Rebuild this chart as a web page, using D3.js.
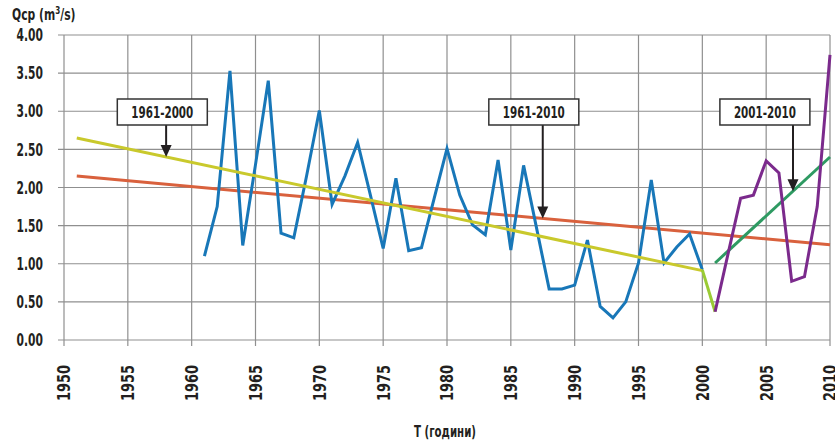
<!DOCTYPE html>
<html>
<head>
<meta charset="utf-8">
<script src="https://cdn.jsdelivr.net/npm/d3@7"></script>
<style>
  html, body { margin: 0; padding: 0; background: #fff; }
  svg { display: block; }
  text { font-family: "DejaVu Sans Condensed", "Liberation Sans Narrow", sans-serif; font-weight: bold; fill: #231f20; }
</style>
</head>
<body>
<svg id="chart" width="835" height="443"></svg>
<script>
// Mean annual discharge, 1961-2000 (m3/s)
const yearsA = d3.range(1961, 2001);
const flowA = [1.10, 1.75, 3.53, 1.24, 2.30, 3.40, 1.40, 1.34, 2.15, 3.01,
               1.78, 2.15, 2.59, 1.90, 1.20, 2.12, 1.17, 1.21, 1.86, 2.51,
               1.90, 1.51, 1.38, 2.36, 1.18, 2.29, 1.48, 0.67, 0.67, 0.72,
               1.31, 0.44, 0.29, 0.50, 1.01, 2.10, 1.01, 1.22, 1.39, 0.92];
// Mean annual discharge, 2001-2010 (m3/s)
const yearsB = d3.range(2001, 2011);
const flowB = [0.37, 1.12, 1.86, 1.90, 2.35, 2.19, 0.77, 0.83, 1.75, 3.74];
// Link between the two periods
const linkYears = [2000, 2001];
const linkFlow = [0.92, 0.37];

// Linear trends: [start year, end year], [start value, end value]
const trendYears1961_2000 = [1951, 2000];
const trendFlow1961_2000 = [2.65, 0.91];
const trendYears1961_2010 = [1951, 2010];
const trendFlow1961_2010 = [2.15, 1.25];
const trendYears2001_2010 = [2001, 2010];
const trendFlow2001_2010 = [1.01, 2.40];

// Axis ticks
const xTicks = d3.range(1950, 2011, 5);
const yTicks = [0, 0.5, 1, 1.5, 2, 2.5, 3, 3.5, 4];

// Callout labels
const calloutLabels = ["1961-2000", "1961-2010", "2001-2010"];
const calloutBoxYear = [1957.7, 1986.8, 2004.9];
const calloutArrowYear = [1958.0, 1987.5, 2007.1];

const svg = d3.select("#chart");
const x = d3.scaleLinear().domain([1950, 2010]).range([64, 830]);
const y = d3.scaleLinear().domain([0, 4]).range([340, 35]);

const gridColor = "#8f8f8f";

// Horizontal grid (with left ticks)
svg.append("g").selectAll("line").data(yTicks).join("line")
  .attr("x1", x(1950) - 6).attr("x2", x(2010))
  .attr("y1", d => y(d)).attr("y2", d => y(d))
  .attr("stroke", gridColor).attr("stroke-width", 1.2);

// Vertical grid (with bottom ticks)
svg.append("g").selectAll("line").data(xTicks).join("line")
  .attr("x1", d => x(d)).attr("x2", d => x(d))
  .attr("y1", y(4)).attr("y2", y(0) + 6)
  .attr("stroke", gridColor).attr("stroke-width", 1.2);

// Y tick labels (horizontally squeezed for a condensed look)
svg.append("g").selectAll("text").data(yTicks).join("text")
  .attr("transform", d => `translate(43,${y(d)}) scale(0.7,1)`)
  .attr("dy", "0.36em")
  .attr("text-anchor", "end").attr("font-size", 17)
  .text(d => d3.format(".2f")(d));

// X tick labels (rotated)
svg.append("g").selectAll("text").data(xTicks).join("text")
  .attr("transform", d => `translate(${x(d)},365) rotate(-90) scale(0.8,1)`)
  .attr("dy", "0.36em").attr("text-anchor", "end").attr("font-size", 18)
  .text(d => d);

// Axis titles
const yt = svg.append("text")
  .attr("transform", `translate(12,20) scale(0.8,1)`).attr("font-size", 15);
yt.append("tspan").text("Qcp (m");
yt.append("tspan").attr("font-size", 10).attr("dy", -6).text("3");
yt.append("tspan").attr("dy", 6).text("/s)");

svg.append("text")
  .attr("transform", `translate(445,437) scale(0.76,1)`)
  .attr("text-anchor", "middle")
  .attr("font-size", 15).text("T (години)");

const line = d3.line().x(d => x(d[0])).y(d => y(d[1]));
const zip = (a, b) => a.map((v, i) => [v, b[i]]);

function drawLine(xs, vs, color, width) {
  svg.append("path").datum(zip(xs, vs))
    .attr("d", line).attr("fill", "none")
    .attr("stroke", color).attr("stroke-width", width)
    .attr("stroke-linejoin", "miter").attr("stroke-linecap", "butt");
}

drawLine(trendYears1961_2010, trendFlow1961_2010, "#d9613d", 3);
drawLine(trendYears2001_2010, trendFlow2001_2010, "#2e9a62", 3);
drawLine(yearsA, flowA, "#1877b8", 3);
drawLine(trendYears1961_2000, trendFlow1961_2000, "#c9c92c", 3);
drawLine(linkYears, linkFlow, "#9acb34", 3);
drawLine(yearsB, flowB, "#7b2a8c", 3);

// Trend value at a given year for each callout
const trendDefs = [
  [trendYears1961_2000, trendFlow1961_2000],
  [trendYears1961_2010, trendFlow1961_2010],
  [trendYears2001_2010, trendFlow2001_2010]
];
function trendAt(i, yr) {
  const [ys, vs] = trendDefs[i];
  return d3.scaleLinear().domain(ys).range(vs)(yr);
}

// Callouts: boxed label with an arrow pointing at its trend line
const boxW = 90, boxH = 26, boxTop = 99;
calloutLabels.forEach((lab, i) => {
  const g = svg.append("g");
  const cx = x(calloutBoxYear[i]);
  const ax = x(calloutArrowYear[i]);
  const tipY = y(trendAt(i, calloutArrowYear[i]));
  g.append("line").attr("x1", ax).attr("x2", ax)
    .attr("y1", boxTop + boxH).attr("y2", tipY - 10)
    .attr("stroke", "#231f20").attr("stroke-width", 2);
  g.append("path")
    .attr("d", `M${ax - 5.5},${tipY - 12} L${ax + 5.5},${tipY - 12} L${ax},${tipY} Z`)
    .attr("fill", "#231f20");
  g.append("rect").attr("x", cx - boxW / 2).attr("y", boxTop)
    .attr("width", boxW).attr("height", boxH)
    .attr("fill", "#fff").attr("stroke", "#333").attr("stroke-width", 1.5);
  g.append("text")
    .attr("transform", `translate(${cx},${boxTop + boxH / 2}) scale(0.72,1)`)
    .attr("dy", "0.36em")
    .attr("text-anchor", "middle").attr("font-size", 16).text(lab);
});
</script>
</body>
</html>
